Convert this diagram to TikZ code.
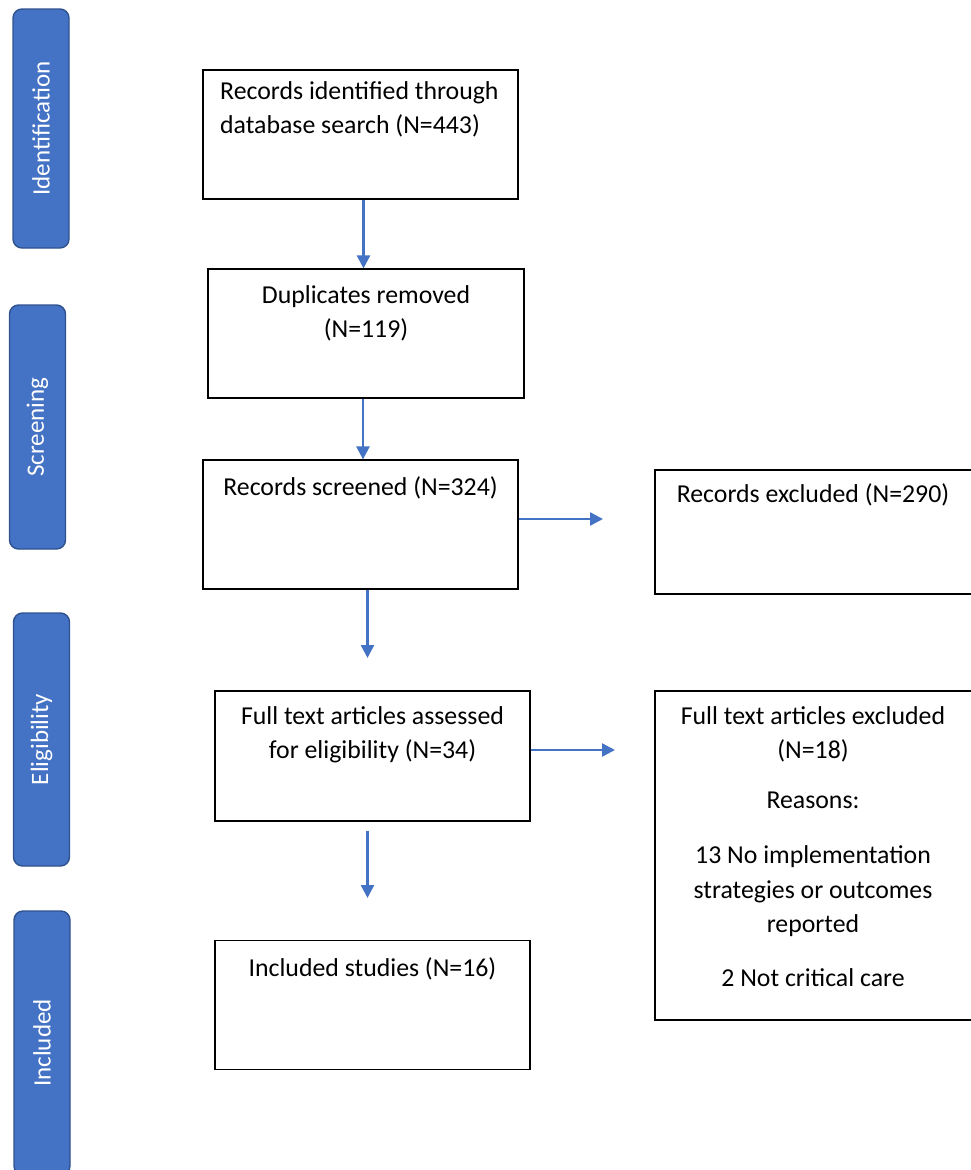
\documentclass[tikz,border=0pt]{standalone}
\usepackage{fontspec}
\setmainfont{Carlito}
\usepackage{tikz}
\usetikzlibrary{arrows.meta,positioning,calc}
\definecolor{phase}{HTML}{4472C4}
\definecolor{phaseedge}{HTML}{2F528F}
\definecolor{flow}{HTML}{4472C4}

\begin{document}
\begin{tikzpicture}[
    x=1pt, y=-1pt,
    phasebar/.style={
        rectangle, draw=phaseedge, fill=phase, text=white,
        rounded corners=9pt, line width=1.4pt, rotate=90,
        minimum height=56pt, inner sep=0pt,
        font=\fontsize{25}{30}\selectfont
    },
    box/.style={
        rectangle, draw=black, line width=1.2pt,
        minimum width=315pt, minimum height=129pt, inner sep=0pt
    },
    boxtext/.style={
        anchor=north, align=center, inner sep=0pt,
        font=\fontsize{25.8}{34.5}\selectfont
    },
    arrow/.style={-{Triangle[length=13pt,width=13pt]}, line width=2.4pt, color=flow},
]
\useasboundingbox (0,0) rectangle (970,1170);

% Phasen
\node[phasebar, minimum width=239pt] (idbar) at (41,128.5) {Identification};
\node[phasebar, minimum width=244pt] (scbar) at (37.5,427) {Screening};
\node[phasebar, minimum width=253pt] (elbar) at (41.5,739.5) {Eligibility};
\node[phasebar, minimum width=264pt] (inbar) at (42,1043) {Included};

% Kasten
\node[box] (ident) at (360.5,134.5) {};
\node[box, minimum width=316pt] (dup) at (366,333.5) {};
\node[box] (screen) at (360.5,524.5) {};
\node[box, minimum height=130pt] (full) at (372.5,756) {};
\node[box] (incl) at (372.5,1005) {};
\node[box, minimum width=330pt, minimum height=124pt] (excl) at (820,532) {};
\node[box, minimum width=330pt, minimum height=329pt] (fullex) at (820,855.5) {};

% Texte
\node[boxtext, anchor=north west, align=left] (identtxt) at (220,81)
    {Records identified through\\database search (N=443)};
\node[boxtext] (duptxt) at (366,285) {Duplicates removed\\(N=119)};
\node[boxtext] (screentxt) at (360.5,476) {Records screened (N=324)};
\node[boxtext] (fulltxt) at (372.5,706) {Full text articles assessed\\for eligibility (N=34)};
\node[boxtext] (incltxt) at (372.5,957) {Included studies (N=16)};
\node[boxtext] (excltxt) at (813,483) {Records excluded (N=290)};
\node[boxtext] (fullextxt) at (813,706)
    {Full text articles excluded\\(N=18)\\[15pt]Reasons:\\[21pt]13 No implementation\\
     strategies or outcomes\\reported\\[19pt]2 Not critical care};

% Pfeile
\coordinate (fullin) at (367.5,658);
\coordinate (inclin) at (367.5,898);
\coordinate (exclin) at (603,519);
\coordinate (fullexin) at (615,750);

\draw[arrow] ([xshift=3pt]ident.south) -- ([xshift=3pt]ident.south |- dup.north);
\draw[arrow] ([xshift=-3pt]dup.south) -- ([xshift=-3pt]dup.south |- screen.north);
\draw[arrow] (screen.south -| fullin) -- (fullin);
\draw[arrow, shorten <=9pt] (full.south -| inclin) -- (inclin);
\draw[arrow] (screen.east |- exclin) -- (exclin);
\draw[arrow] (full.east |- fullexin) -- (fullexin);

\end{tikzpicture}
\end{document}
